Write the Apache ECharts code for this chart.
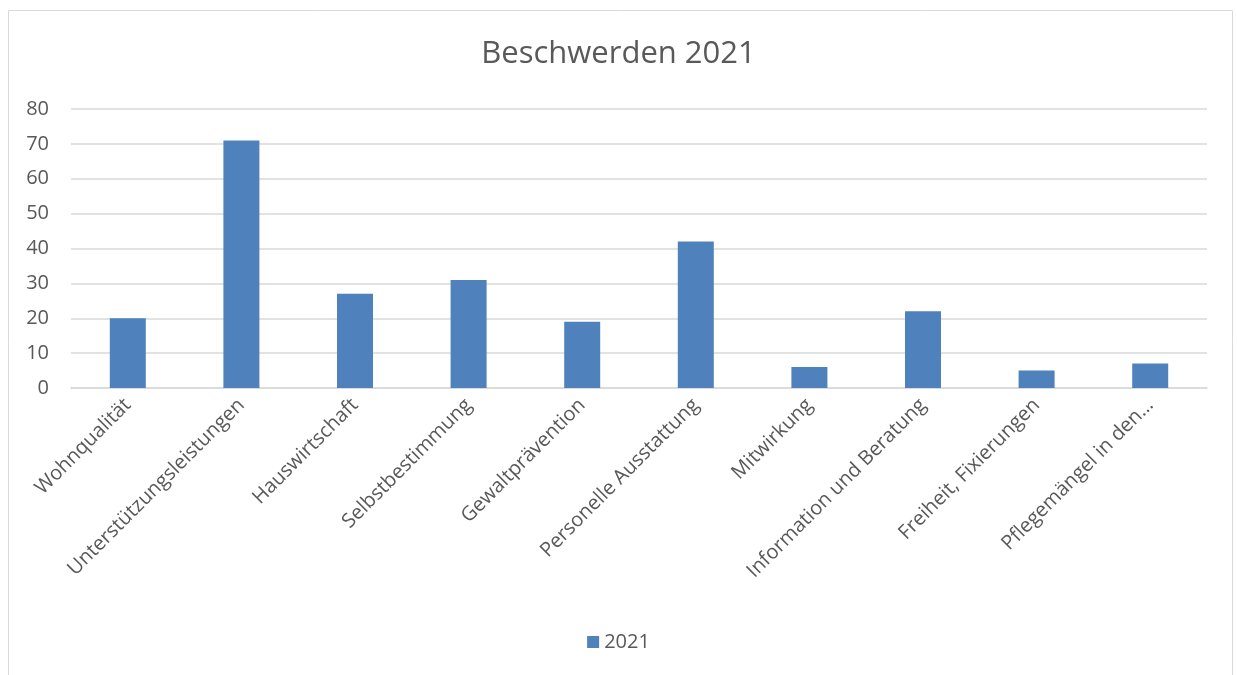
<!DOCTYPE html>
<html>
<head>
<meta charset="utf-8">
<script src="https://cdn.jsdelivr.net/npm/echarts@6/dist/echarts.min.js"></script>
<style>
html,body{margin:0;padding:0;background:#fff;}
#chart{width:1237px;height:675px;}
</style>
</head>
<body>
<div id="chart"></div>
<script>
const categories = ['Wohnqualität','Unterstützungsleistungen','Hauswirtschaft','Selbstbestimmung','Gewaltprävention','Personelle Ausstattung','Mitwirkung','Information und Beratung','Freiheit, Fixierungen','Pflegemängel in den…'];
const values2021 = [20, 71, 27, 31, 19, 42, 6, 22, 5, 7];
const seriesName = '2021';
const titleText = 'Beschwerden 2021';

const chart = echarts.init(document.getElementById('chart'));
const font = '"Open Sans", "Noto Sans", sans-serif';
chart.setOption({
  animation: false,
  textStyle: { fontFamily: font },
  graphic: [{
    type: 'rect', shape: { x: 8.5, y: 10.5, width: 1224, height: 700 },
    style: { fill: 'none', stroke: '#d9d9d9', lineWidth: 1 }, silent: true, z: -10
  }],
  title: {
    text: titleText, left: 'center', top: 34,
    textStyle: { fontFamily: font, fontSize: 31, fontWeight: 'normal', color: '#595959' }
  },
  legend: {
    data: [seriesName], bottom: 18, left: 'center',
    itemWidth: 12, itemHeight: 12, itemGap: 6, icon: 'rect',
    textStyle: { fontFamily: font, fontSize: 20, color: '#595959' }
  },
  grid: { left: 71, right: 30, top: 109, bottom: 287, containLabel: false },
  xAxis: {
    type: 'category', data: categories,
    axisLine: { lineStyle: { color: '#d9d9d9', width: 1.5 } },
    axisTick: { show: false },
    axisLabel: { rotate: 45, interval: 0, margin: 14, fontFamily: font, fontSize: 20, color: '#595959' }
  },
  yAxis: {
    type: 'value', min: 0, max: 80, interval: 10,
    axisLine: { show: false }, axisTick: { show: false },
    splitLine: { lineStyle: { color: '#d9d9d9', width: 1.5 } },
    axisLabel: { margin: 22, fontFamily: font, fontSize: 20, color: '#595959' }
  },
  series: [{
    name: seriesName, type: 'bar', data: values2021, barWidth: 36,
    itemStyle: { color: '#4f81bd' }
  }]
});
</script>
</body>
</html>
